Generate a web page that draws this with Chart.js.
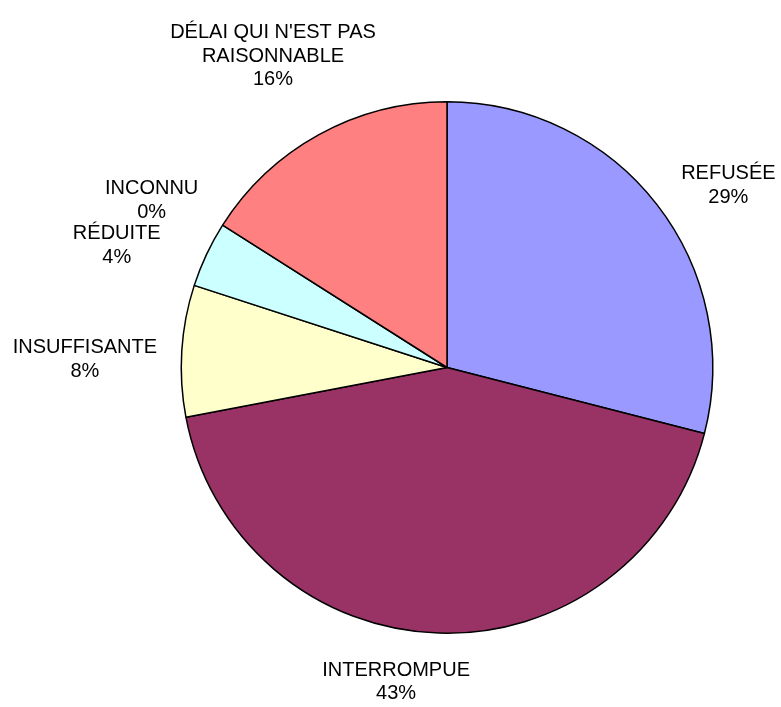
<!DOCTYPE html>
<html>
<head>
<meta charset="utf-8">
<script src="https://cdn.jsdelivr.net/npm/chart.js@4.4.1/dist/chart.umd.min.js"></script>
<style>
  html, body { margin: 0; padding: 0; background: #ffffff; }
  #wrap { width: 781px; height: 707px; }
</style>
</head>
<body>
<div id="wrap"><canvas id="c" width="781" height="707"></canvas></div>
<script>
// ---- data ----
const categories = [
  ['REFUSÉE'],
  ['INTERROMPUE'],
  ['INSUFFISANTE'],
  ['RÉDUITE'],
  ['INCONNU'],
  ["DÉLAI QUI N'EST PAS", 'RAISONNABLE']
];
const shares = [29, 43, 8, 4, 0, 16];
const sliceColors = ['#9999FF', '#993366', '#FFFFCC', '#CCFFFF', '#660066', '#FF8080'];

// ---- label layout (style): angle nudge in degrees and distance as factor of radius ----
const labelAngleNudge = [4.9, 7.4, -2.3, -4.9, -2.9, -0.4];
const labelDistance = [1.261, 1.198, 1.363, 1.325, 1.277, 1.342];

const outsideLabels = {
  id: 'outsideLabels',
  afterDatasetsDraw(chart) {
    const ctx = chart.ctx;
    const meta = chart.getDatasetMeta(0);
    const data = chart.data.datasets[0].data;
    const total = data.reduce((a, b) => a + b, 0);
    ctx.save();
    ctx.fillStyle = '#000000';
    ctx.font = '20px "Liberation Sans", Arial, sans-serif';
    ctx.textAlign = 'center';
    ctx.textBaseline = 'middle';
    const lineH = 23.5;
    meta.data.forEach((arc, i) => {
      const p = arc.getProps(['x', 'y', 'startAngle', 'endAngle', 'outerRadius'], true);
      const mid = (p.startAngle + p.endAngle) / 2 + labelAngleNudge[i] * Math.PI / 180;
      const d = p.outerRadius * labelDistance[i];
      const cx = p.x + Math.cos(mid) * d;
      const cy = p.y + Math.sin(mid) * d;
      const lines = categories[i].concat([Math.round(data[i] / total * 100) + '%']);
      const y0 = cy - (lines.length - 1) * lineH / 2;
      lines.forEach((t, k) => ctx.fillText(t, cx, y0 + k * lineH));
    });
    ctx.restore();
  }
};

new Chart(document.getElementById('c'), {
  type: 'pie',
  data: {
    labels: categories.map(l => l.join(' ')),
    datasets: [{
      data: shares,
      backgroundColor: sliceColors,
      borderColor: '#000000',
      borderWidth: 1.5
    }]
  },
  options: {
    responsive: false,
    animation: false,
    layout: { padding: { top: 101, bottom: 73, left: 180.5, right: 67.5 } },
    plugins: {
      legend: { display: false },
      tooltip: { enabled: false }
    }
  },
  plugins: [outsideLabels]
});
</script>
</body>
</html>
